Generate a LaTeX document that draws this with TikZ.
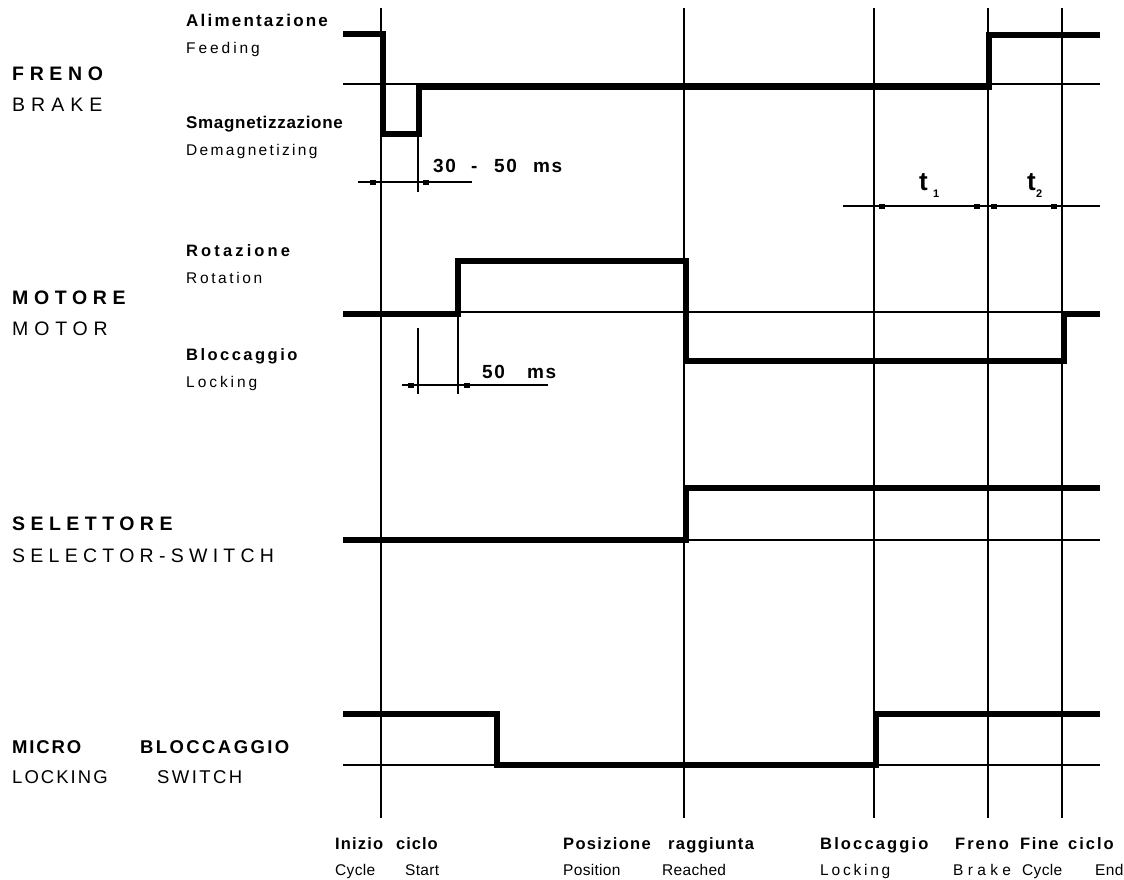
\documentclass[tikz,border=0pt]{standalone}
\usepackage{fontspec}
\setmainfont{Liberation Sans}
\newcommand{\rl}[3]{{\fontsize{#1}{#1}\selectfont\addfontfeature{LetterSpace=#2}#3}}
\newcommand{\bl}[3]{{\fontsize{#1}{#1}\selectfont\bfseries\addfontfeature{LetterSpace=#2}#3}}
\begin{document}
\begin{tikzpicture}[x=1pt,y=-1pt,
  guide/.style={line width=1.2pt,black},
  sig/.style={line width=5.2pt,line join=miter,line cap=butt,black},
  lbl/.style={inner sep=0pt,anchor=base west},
  mk/.style={fill=black,draw=none}]
\useasboundingbox[fill=white] (0,0) rectangle (1124,879);
% vertical event lines
\foreach \x/\n in {381/va,684/vb,874/vc,988/vd,1062/ve}{
  \coordinate (\n top) at (\x,8);
  \coordinate (\n bot) at (\x,818);
  \draw[guide] (\n top) -- (\n bot);
}
% horizontal reference lines
\foreach \y/\n in {84/hb,312/hm,540/hs,765/hl}{
  \coordinate (\n l) at (343,\y);
  \coordinate (\n r) at (1100,\y);
  \draw[guide] (\n l) -- (\n r);
}
% signals
\draw[sig] (343,34) -- (383,34) -- (383,134) -- (419,134) -- (419,87) -- (989,87) -- (989,35) -- (1100,35);
\draw[sig] (343,314) -- (458,314) -- (458,261) -- (686,261) -- (686,361) -- (1064,361) -- (1064,314) -- (1100,314);
\draw[sig] (343,540) -- (686,540) -- (686,488) -- (1100,488);
\draw[sig] (343,714) -- (497,714) -- (497,765) -- (876,765) -- (876,714) -- (1100,714);
% extension lines
\draw[guide] (418,134) -- (418,192);
\draw[guide] (418,328) -- (418,394);
\draw[guide] (458,314) -- (458,394);
% dimension lines
\draw[guide] (358,182) -- (472,182);
\draw[guide] (843,206) -- (1100,206);
\draw[guide] (402,385) -- (548,385);
% markers
\foreach \a in {370,423}{\fill[mk] (\a,179.5) rectangle ++(6,5);}
\foreach \a in {879,974,991,1051}{\fill[mk] (\a,203.5) rectangle ++(6,5);}
\foreach \a in {408,464}{\fill[mk] (\a,382.5) rectangle ++(6,5);}
% dimension texts
\node[lbl] (d1a) at (433,172) {\bl{19}{8}{30}};
\node[lbl] (d1b) at (471,172) {\bl{19}{0}{-}};
\node[lbl] (d1c) at (494,172) {\bl{19}{8}{50}};
\node[lbl] (d1d) at (533,172) {\bl{19}{8}{ms}};
\node[lbl] (d2a) at (482,378) {\bl{19}{8}{50}};
\node[lbl] (d2b) at (527,378) {\bl{19}{8}{ms}};
\node[lbl] (t1) at (919,190) {\bl{26}{0}{t}};
\node[lbl] (t1s) at (933,197) {\bl{11}{0}{1}};
\node[lbl] (t2) at (1027,190) {\bl{26}{0}{t}};
\node[lbl] (t2s) at (1036,197) {\bl{11}{0}{2}};
% left labels
\node[lbl] (freno) at (12,80) {\bl{19.5}{29}{FRENO}};
\node[lbl] (brake) at (12,111) {\rl{19.5}{31}{BRAKE}};
\node[lbl] (alim) at (186,26) {\bl{17}{13}{Alimentazione}};
\node[lbl] (feed) at (186,53) {\rl{15.5}{19}{Feeding}};
\node[lbl] (smag) at (186,128) {\bl{17}{4}{Smagnetizzazione}};
\node[lbl] (demag) at (186,155) {\rl{15.5}{15}{Demagnetizing}};
\node[lbl] (rotaz) at (186,256) {\bl{16.5}{19}{Rotazione}};
\node[lbl] (rotat) at (186,283) {\rl{15.5}{17}{Rotation}};
\node[lbl] (motore) at (12,304) {\bl{19.5}{29}{MOTORE}};
\node[lbl] (motor) at (12,335) {\rl{19.5}{30}{MOTOR}};
\node[lbl] (blocc) at (186,360) {\bl{16.5}{15}{Bloccaggio}};
\node[lbl] (lock) at (186,387) {\rl{15.5}{19}{Locking}};
\node[lbl] (selet) at (12,530) {\bl{19.5}{28}{SELETTORE}};
\node[lbl] (selsw) at (12,562) {\rl{19.5}{27}{SELECTOR-SWITCH}};
\node[lbl] (micro) at (12,753) {\bl{18.5}{10}{MICRO}};
\node[lbl] (bloccb) at (140,753) {\bl{18.5}{13}{BLOCCAGGIO}};
\node[lbl] (locking) at (12,783) {\rl{18.5}{11}{LOCKING}};
\node[lbl] (switch) at (157,783) {\rl{18.5}{13}{SWITCH}};
% bottom labels
\node[lbl] (inizio) at (335,849) {\bl{16.5}{7}{Inizio}};
\node[lbl] (ciclo) at (396,849) {\bl{16.5}{6}{ciclo}};
\node[lbl] (cycle) at (335,875) {\rl{15.5}{2}{Cycle}};
\node[lbl] (start) at (405,875) {\rl{15.5}{2}{Start}};
\node[lbl] (posiz) at (563,849) {\bl{16.5}{8}{Posizione}};
\node[lbl] (ragg) at (668,849) {\bl{16.5}{8}{raggiunta}};
\node[lbl] (posit) at (563,875) {\rl{15.5}{2}{Position}};
\node[lbl] (reach) at (662,875) {\rl{15.5}{2}{Reached}};
\node[lbl] (bloccc) at (820,849) {\bl{16.5}{13}{Bloccaggio}};
\node[lbl] (lockb) at (820,875) {\rl{15.5}{18}{Locking}};
\node[lbl] (freno2) at (955,849) {\bl{16.5}{12}{Freno}};
\node[lbl] (fine) at (1020,849) {\bl{16.5}{9}{Fine}};
\node[lbl] (ciclo2) at (1068,849) {\bl{16.5}{12}{ciclo}};
\node[lbl] (brake2) at (953,875) {\rl{15.5}{28}{Brake}};
\node[lbl] (cycle2) at (1022,875) {\rl{15.5}{2}{Cycle}};
\node[lbl] (end2) at (1095,875) {\rl{15.5}{2}{End}};
\end{tikzpicture}
\end{document}
